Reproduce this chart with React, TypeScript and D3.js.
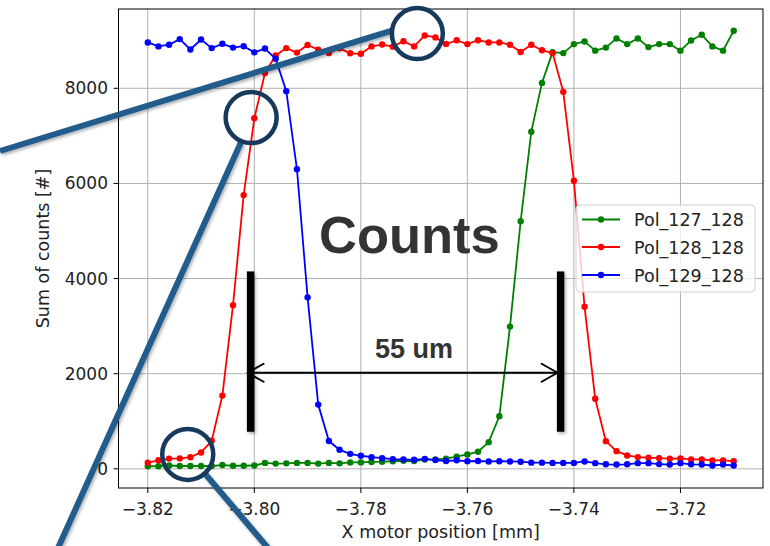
import React, { useEffect } from "react";
import * as d3 from "d3";

const xPositions = [
  -3.820, -3.818, -3.816, -3.814, -3.812, -3.810, -3.808, -3.806, -3.804, -3.802,
  -3.800, -3.798, -3.796, -3.794, -3.792, -3.790, -3.788, -3.786, -3.784, -3.782,
  -3.780, -3.778, -3.776, -3.774, -3.772, -3.770, -3.768, -3.766, -3.764, -3.762,
  -3.760, -3.758, -3.756, -3.754, -3.752, -3.750, -3.748, -3.746, -3.744, -3.742,
  -3.740, -3.738, -3.736, -3.734, -3.732, -3.730, -3.728, -3.726, -3.724, -3.722,
  -3.720, -3.718, -3.716, -3.714, -3.712, -3.710,
];

const pol127 = [
  55, 55, 70, 60, 60, 60, 60, 80, 65, 65,
  70, 125, 110, 115, 125, 125, 110, 125, 115, 135,
  135, 145, 150, 160, 170, 165, 195, 200, 215, 255,
  303, 360, 561, 1105, 2990, 5205, 7088, 8113, 8760, 8740,
  8929, 8985, 8791, 8855, 9048, 8929, 9048, 8866, 8929, 8929,
  8791, 9006, 9125, 8881, 8791, 9209,
];

const pol128 = [
  130, 180, 215, 220, 245, 345, 590, 1540, 3440, 5755,
  7370, 8320, 8690, 8845, 8750, 8910, 8812, 8740, 8840, 8735,
  8725, 8880, 8920, 8875, 8990, 8881, 9110, 9070, 8930, 9010,
  8929, 9010, 8964, 8964, 8916, 8762, 8916, 8800, 8740, 7925,
  6057, 3406, 1475, 582, 372, 282, 247, 234, 226, 213,
  220, 199, 199, 178, 178, 163,
];

const pol129 = [
  8964, 8881, 8916, 9034, 8815, 9025, 8845, 8935, 8855, 8885,
  8755, 8835, 8620, 7940, 6300, 3605, 1350, 585, 400, 315,
  275, 245, 225, 205, 200, 190, 210, 185, 165, 180,
  160, 165, 155, 160, 155, 150, 130, 130, 125, 125,
  125, 155, 120, 95, 90, 95, 120, 120, 100, 90,
  120, 95, 90, 70, 90, 70,
];

const seriesNames = ["Pol_127_128", "Pol_128_128", "Pol_129_128"];
const seriesColors = ["#008000", "#ff0000", "#0000ff"];
const seriesValues = [pol127, pol128, pol129];

const xTicks = [-3.82, -3.8, -3.78, -3.76, -3.74, -3.72];
const yTicks = [0, 2000, 4000, 6000, 8000];

// annotation anchors in data units
const highlightX = [-3.7694, -3.8006, -3.8125];
const highlightY = [9150, 7385, 303];
const barX = [-3.8007, -3.7425];
const barYRange = [4150, 780];
const arrowY = 2020;
const spanLabel = "55 um";
const titleLabel = "Counts";

const W = 770;
const H = 546;
const M = { left: 118.5, right: 763, top: 9, bottom: 488 };

const fmt = (v: number) => {
  const s = d3.format(".2f")(v);
  return s.replace("-", "\u2212");
};

export default function App() {
  useEffect(() => {
    document.body.style.margin = "0";
  }, []);

  const allY = seriesValues.flat();
  const xMin = d3.min(xPositions)!;
  const xMax = d3.max(xPositions)!;
  const yMin = d3.min(allY)!;
  const yMax = d3.max(allY)!;
  const xs = xMax - xMin;
  const ys = yMax - yMin;

  const x = d3.scaleLinear().domain([xMin - 0.05 * xs, xMax + 0.05 * xs]).range([M.left, M.right]);
  const y = d3.scaleLinear().domain([yMin - 0.05 * ys, yMax + 0.05 * ys]).range([M.bottom, M.top]);

  const line = d3
    .line<number>()
    .x((_, i) => x(xPositions[i]))
    .y((d) => y(d));

  const font = "'DejaVu Sans', sans-serif";
  const tickFs = 17;
  const labelFs = 17.5;

  const lineColor = "#245c8d";
  const circleColor = "#173a5c";

  const c1 = [x(highlightX[0]), y(highlightY[0])];
  const c2 = [x(highlightX[1]), y(highlightY[1])];
  const c3 = [x(highlightX[2]), y(highlightY[2])];
  const r = 25.5;

  const bx0 = x(barX[0]);
  const bx1 = x(barX[1]);
  const by0 = y(barYRange[0]);
  const by1 = y(barYRange[1]);
  const ay = y(arrowY);

  const legendX = 576;
  const legendY = 205;
  const legendRows = [219.5, 247, 275];

  return (
    <div style={{ position: "absolute", left: 0, top: 0 }}>
      <svg width={W} height={H} viewBox={`0 0 ${W} ${H}`} style={{ display: "block", background: "#fff" }}>
        <defs>
          <clipPath id="plotclip">
            <rect x={M.left} y={M.top} width={M.right - M.left} height={M.bottom - M.top} />
          </clipPath>
          <filter id="shadow" x="-20%" y="-20%" width="140%" height="140%">
            <feDropShadow dx="1.5" dy="2" stdDeviation="1.5" floodColor="#000" floodOpacity="0.3" />
          </filter>
        </defs>
        <rect x={0} y={0} width={W} height={H} fill="#fff" />

        {/* grid */}
        <g stroke="#b0b0b0" strokeWidth={1}>
          {xTicks.map((t) => (
            <line key={"gx" + t} x1={x(t)} x2={x(t)} y1={M.top} y2={M.bottom} />
          ))}
          {yTicks.map((t) => (
            <line key={"gy" + t} x1={M.left} x2={M.right} y1={y(t)} y2={y(t)} />
          ))}
        </g>

        {/* series */}
        <g clipPath="url(#plotclip)">
          {seriesValues.map((vals, si) => (
            <g key={seriesNames[si]}>
              <path d={line(vals) || ""} fill="none" stroke={seriesColors[si]} strokeWidth={1.8} strokeLinejoin="round" />
              {vals.map((v, i) => (
                <circle key={i} cx={x(xPositions[i])} cy={y(v)} r={3.2} fill={seriesColors[si]} />
              ))}
            </g>
          ))}
        </g>

        {/* spines */}
        <rect x={M.left} y={M.top} width={M.right - M.left} height={M.bottom - M.top} fill="none" stroke="#000" strokeWidth={1} />

        {/* ticks */}
        <g stroke="#000" strokeWidth={1}>
          {xTicks.map((t) => (
            <line key={"tx" + t} x1={x(t)} x2={x(t)} y1={M.bottom} y2={M.bottom + 5} />
          ))}
          {yTicks.map((t) => (
            <line key={"ty" + t} x1={M.left - 5} x2={M.left} y1={y(t)} y2={y(t)} />
          ))}
        </g>
        <g fontFamily={font} fontSize={tickFs} fill="#222">
          {xTicks.map((t) => (
            <text key={"lx" + t} x={x(t)} y={515} textAnchor="middle">
              {fmt(t)}
            </text>
          ))}
          {yTicks.map((t) => (
            <text key={"ly" + t} x={108} y={y(t) + 6} textAnchor="end">
              {String(t)}
            </text>
          ))}
        </g>
        <text x={(M.left + M.right) / 2} y={538} textAnchor="middle" fontFamily={font} fontSize={labelFs} fill="#222">
          X motor position [mm]
        </text>
        <text
          transform={`translate(49, ${(M.top + M.bottom) / 2}) rotate(-90)`}
          textAnchor="middle"
          fontFamily={font}
          fontSize={labelFs}
          fill="#222"
        >
          Sum of counts [#]
        </text>

        {/* legend */}
        <rect x={legendX} y={legendY} width={179} height={87} rx={4} fill="#fff" fillOpacity={0.8} stroke="#d0d0d0" strokeWidth={1} />
        {seriesNames.map((n, i) => (
          <g key={"leg" + n}>
            <line x1={582} x2={620} y1={legendRows[i]} y2={legendRows[i]} stroke={seriesColors[i]} strokeWidth={1.8} />
            <circle cx={601} cy={legendRows[i]} r={3.2} fill={seriesColors[i]} />
            <text x={634} y={legendRows[i] + 6.5} fontFamily={font} fontSize={labelFs} fill="#222">
              {n}
            </text>
          </g>
        ))}

        {/* annotations */}
        <text x={319} y={253} fontFamily="'Liberation Sans', Arial, sans-serif" fontWeight="bold" fontSize={52.5} fill="#333">
          {titleLabel}
        </text>
        <text x={375} y={358} fontFamily="'Liberation Sans', Arial, sans-serif" fontWeight="bold" fontSize={27} fill="#333">
          {spanLabel}
        </text>

        <g filter="url(#shadow)">
          <rect x={bx0 - 3.7} y={by0} width={7.4} height={by1 - by0} fill="#000" />
          <rect x={bx1 - 3.7} y={by0} width={7.4} height={by1 - by0} fill="#000" />
        </g>
        <g stroke="#000" strokeWidth={2} fill="none" strokeLinecap="round" strokeLinejoin="round">
          <line x1={bx0 - 3} x2={bx1 + 2} y1={ay} y2={ay} />
          <polyline points={`${bx0 + 13},${ay - 9} ${bx0 - 3},${ay} ${bx0 + 13},${ay + 9}`} />
          <polyline points={`${bx1 - 19},${ay - 9} ${bx1 - 3},${ay} ${bx1 - 19},${ay + 9}`} />
        </g>

        <g stroke={lineColor} strokeWidth={6} strokeLinecap="butt" filter="url(#shadow)">
          <line x1={0} y1={151} x2={c1[0] - r} y2={c1[1] - 3} />
          <line x1={c2[0] - 10} y1={c2[1] + r - 1} x2={58} y2={548} />
          <line x1={c3[0] + 17} y1={c3[1] + 19} x2={268} y2={548} />
        </g>
        <g stroke={circleColor} strokeWidth={4.5} fill="none">
          <circle cx={c1[0]} cy={c1[1]} r={r} />
          <circle cx={c2[0]} cy={c2[1]} r={r} />
          <circle cx={c3[0]} cy={c3[1]} r={r} />
        </g>
      </svg>
    </div>
  );
}
